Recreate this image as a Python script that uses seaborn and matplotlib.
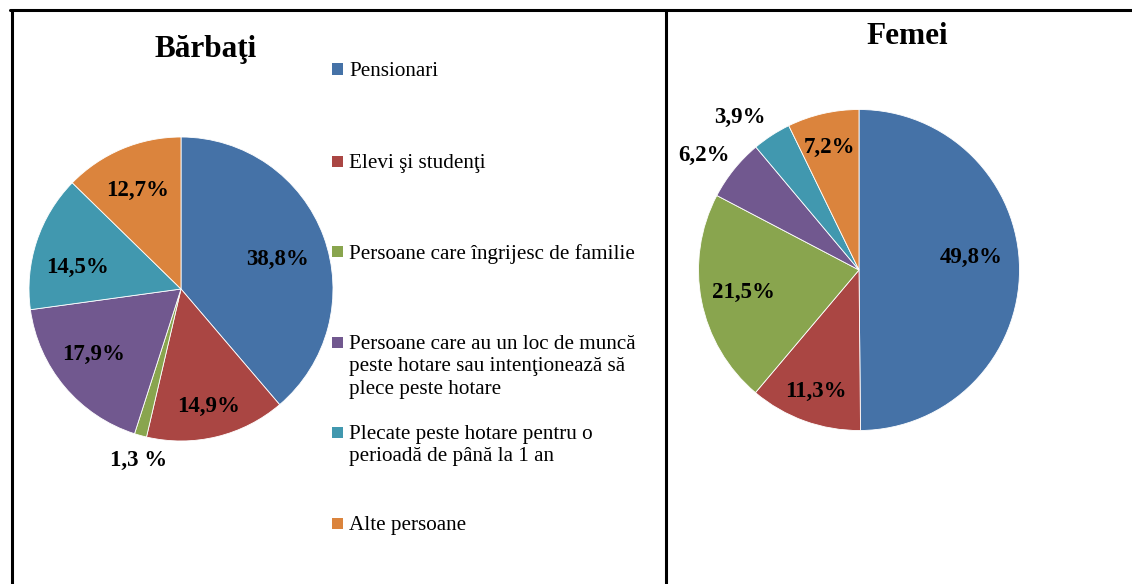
import matplotlib
matplotlib.use("Agg")
import matplotlib.pyplot as plt
import seaborn as sns
import numpy as np
from matplotlib.lines import Line2D
from matplotlib.patches import Rectangle
from matplotlib.transforms import offset_copy

sns.set_theme(style="white")
plt.rcParams['font.family'] = ['Liberation Serif', 'DejaVu Serif']
plt.rcParams['text.color'] = 'black'

# data
categories = [
    "Pensionari",
    "Elevi şi studenţi",
    "Persoane care îngrijesc de familie",
    "Persoane care au un loc de muncă\npeste hotare sau intenţionează să\nplece peste hotare",
    "Plecate peste hotare pentru o\nperioadă de până la 1 an",
    "Alte persoane",
]
barbati_values = [38.8, 14.9, 1.3, 17.9, 14.5, 12.7]
barbati_labels = ["38,8%", "14,9%", "1,3 %", "17,9%", "14,5%", "12,7%"]
femei_values = [49.8, 11.3, 21.5, 6.2, 3.9, 7.2]
femei_labels = ["49,8%", "11,3%", "21,5%", "6,2%", "3,9%", "7,2%"]

colors = ["#4572A7", "#AA4643", "#89A54E", "#71588F", "#4198AF", "#DB843D"]

W, H = 1132, 584
fig = plt.figure(figsize=(W / 100, H / 100), dpi=100)


def pie_panel(values, labels, cx, cy, r, dists, nudges):
    half = r + 20
    ax = fig.add_axes([(cx - half) / W, (H - cy - half) / H, 2 * half / W, 2 * half / H])
    ax.pie(values, colors=colors, startangle=90, counterclock=False,
           wedgeprops=dict(edgecolor="white", linewidth=0.6))
    lim = half / r
    ax.set_xlim(-lim, lim)
    ax.set_ylim(-lim, lim)
    ax.set_aspect("equal")
    ax.axis("off")
    # labels at the middle angle of each wedge, with small pixel nudges
    frac = np.array(values) / np.sum(values)
    mids = np.cumsum(frac) - frac / 2
    for m, lab, d, (nx, ny) in zip(mids, labels, dists, nudges):
        ang = np.deg2rad(90 - 360 * m)
        tr = offset_copy(ax.transData, fig=fig, x=nx, y=-ny, units="dots")
        ax.text(d * np.cos(ang), d * np.sin(ang), lab, ha="center", va="center",
                fontsize=16.5, fontweight="bold", color="black", transform=tr)
    return ax


pie_panel(barbati_values, barbati_labels, 181, 289, 152,
          [0.67, 0.78, 1.15, 0.71, 0.70, 0.72],
          [(1, 6), (0, 2), (4, 3), (-5, -4), (-2, 12), (-1, 2)])
pie_panel(femei_values, femei_labels, 859, 270, 160.5,
          [0.70, 0.79, 0.73, 1.21, 1.22, 0.80],
          [(0, -12), (0, 2), (-1, 0), (-4, 7), (-13, 12), (-1, 3)])

# titles
fig.text(206 / W, (H - 57) / H, "Bărbaţi", ha="center", va="baseline",
         fontsize=22.5, fontweight="bold")
fig.text(907 / W, (H - 44) / H, "Femei", ha="center", va="baseline",
         fontsize=22.5, fontweight="bold")

# legend
legend_y = [69, 161, 251, 342, 432, 523]
for cat, col, y in zip(categories, colors, legend_y):
    fig.add_artist(Rectangle((332 / W, (H - y - 5.5) / H), 11 / W, 11 / H,
                             transform=fig.transFigure, color=col, lw=0))
    fig.text(349 / W, (H - y + 7) / H, cat, ha="left", va="top",
             fontsize=15.2, linespacing=1.25, color="black")

# frame lines
lw = 2.2
fig.add_artist(Line2D([10 / W, 1], [(H - 10) / H] * 2, transform=fig.transFigure, color="black", lw=lw))
fig.add_artist(Line2D([11.5 / W] * 2, [0, (H - 10) / H], transform=fig.transFigure, color="black", lw=lw))
fig.add_artist(Line2D([666 / W] * 2, [0, (H - 10) / H], transform=fig.transFigure, color="black", lw=lw))

fig.savefig("out.png", dpi=100, facecolor="white")
